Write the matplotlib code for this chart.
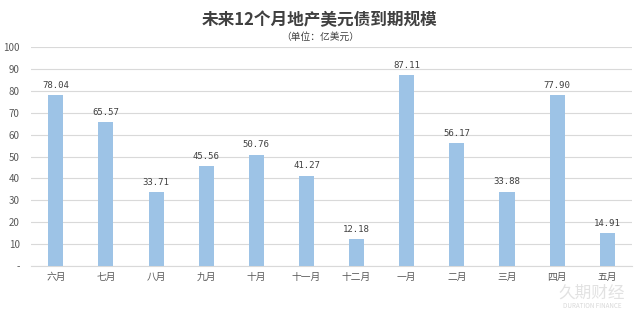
import matplotlib
matplotlib.use("Agg")
import matplotlib.pyplot as plt

plt.rcParams['font.family'] = ['Noto Sans CJK SC', 'DejaVu Sans']

months = ['六月', '七月', '八月', '九月', '十月', '十一月', '十二月',
          '一月', '二月', '三月', '四月', '五月']
values = [78.04, 65.57, 33.71, 45.56, 50.76, 41.27, 12.18,
          87.11, 56.17, 33.88, 77.90, 14.91]
yticks = [0, 10, 20, 30, 40, 50, 60, 70, 80, 90, 100]
ytick_labels = ['-', '10', '20', '30', '40', '50', '60', '70', '80', '90', '100']

fig = plt.figure(figsize=(6.4, 3.1), dpi=100)
ax = fig.add_axes([0.048, 0.142, 0.94, 0.706])

x = range(len(months))
ax.bar(x, values, width=0.3, color='#9DC3E6', zorder=3)
for i, v in enumerate(values):
    ax.text(i, v + 2.5, f'{v:.2f}', ha='center', va='bottom', fontsize=6.5,
            color='#404040', family='DejaVu Sans Mono')

ax.set_xlim(-0.5, len(months) - 0.5)
ax.set_ylim(0, 100)
ax.set_yticks(yticks)
ax.set_yticklabels(ytick_labels)
ax.set_xticks(list(x))
ax.set_xticklabels(months)
ax.tick_params(axis='both', length=0, labelsize=7, colors='#595959')
ax.tick_params(axis='x', pad=4.5)
ax.tick_params(axis='y', pad=8)
ax.grid(axis='y', color='#D9D9D9', linewidth=0.8, zorder=0)
for s in ['top', 'right', 'left']:
    ax.spines[s].set_visible(False)
ax.spines['bottom'].set_color('#D9D9D9')

fig.text(0.5, 0.935, '未来12个月地产美元债到期规模', ha='center', va='center',
         fontsize=12, fontweight='bold', color='#404040')
fig.text(0.5, 0.88, '（单位：亿美元）', ha='center', va='center',
         fontsize=7, color='#404040')

# watermark
fig.text(0.925, 0.054, '久期财经', ha='center', va='center', fontsize=12,
         color='#d0d0d0', alpha=0.6)
fig.text(0.925, 0.0, 'DURATION FINANCE', ha='center', va='bottom', fontsize=4.5,
         color='#c8c8c8', alpha=0.7)

fig.savefig('out.png', dpi=100)
